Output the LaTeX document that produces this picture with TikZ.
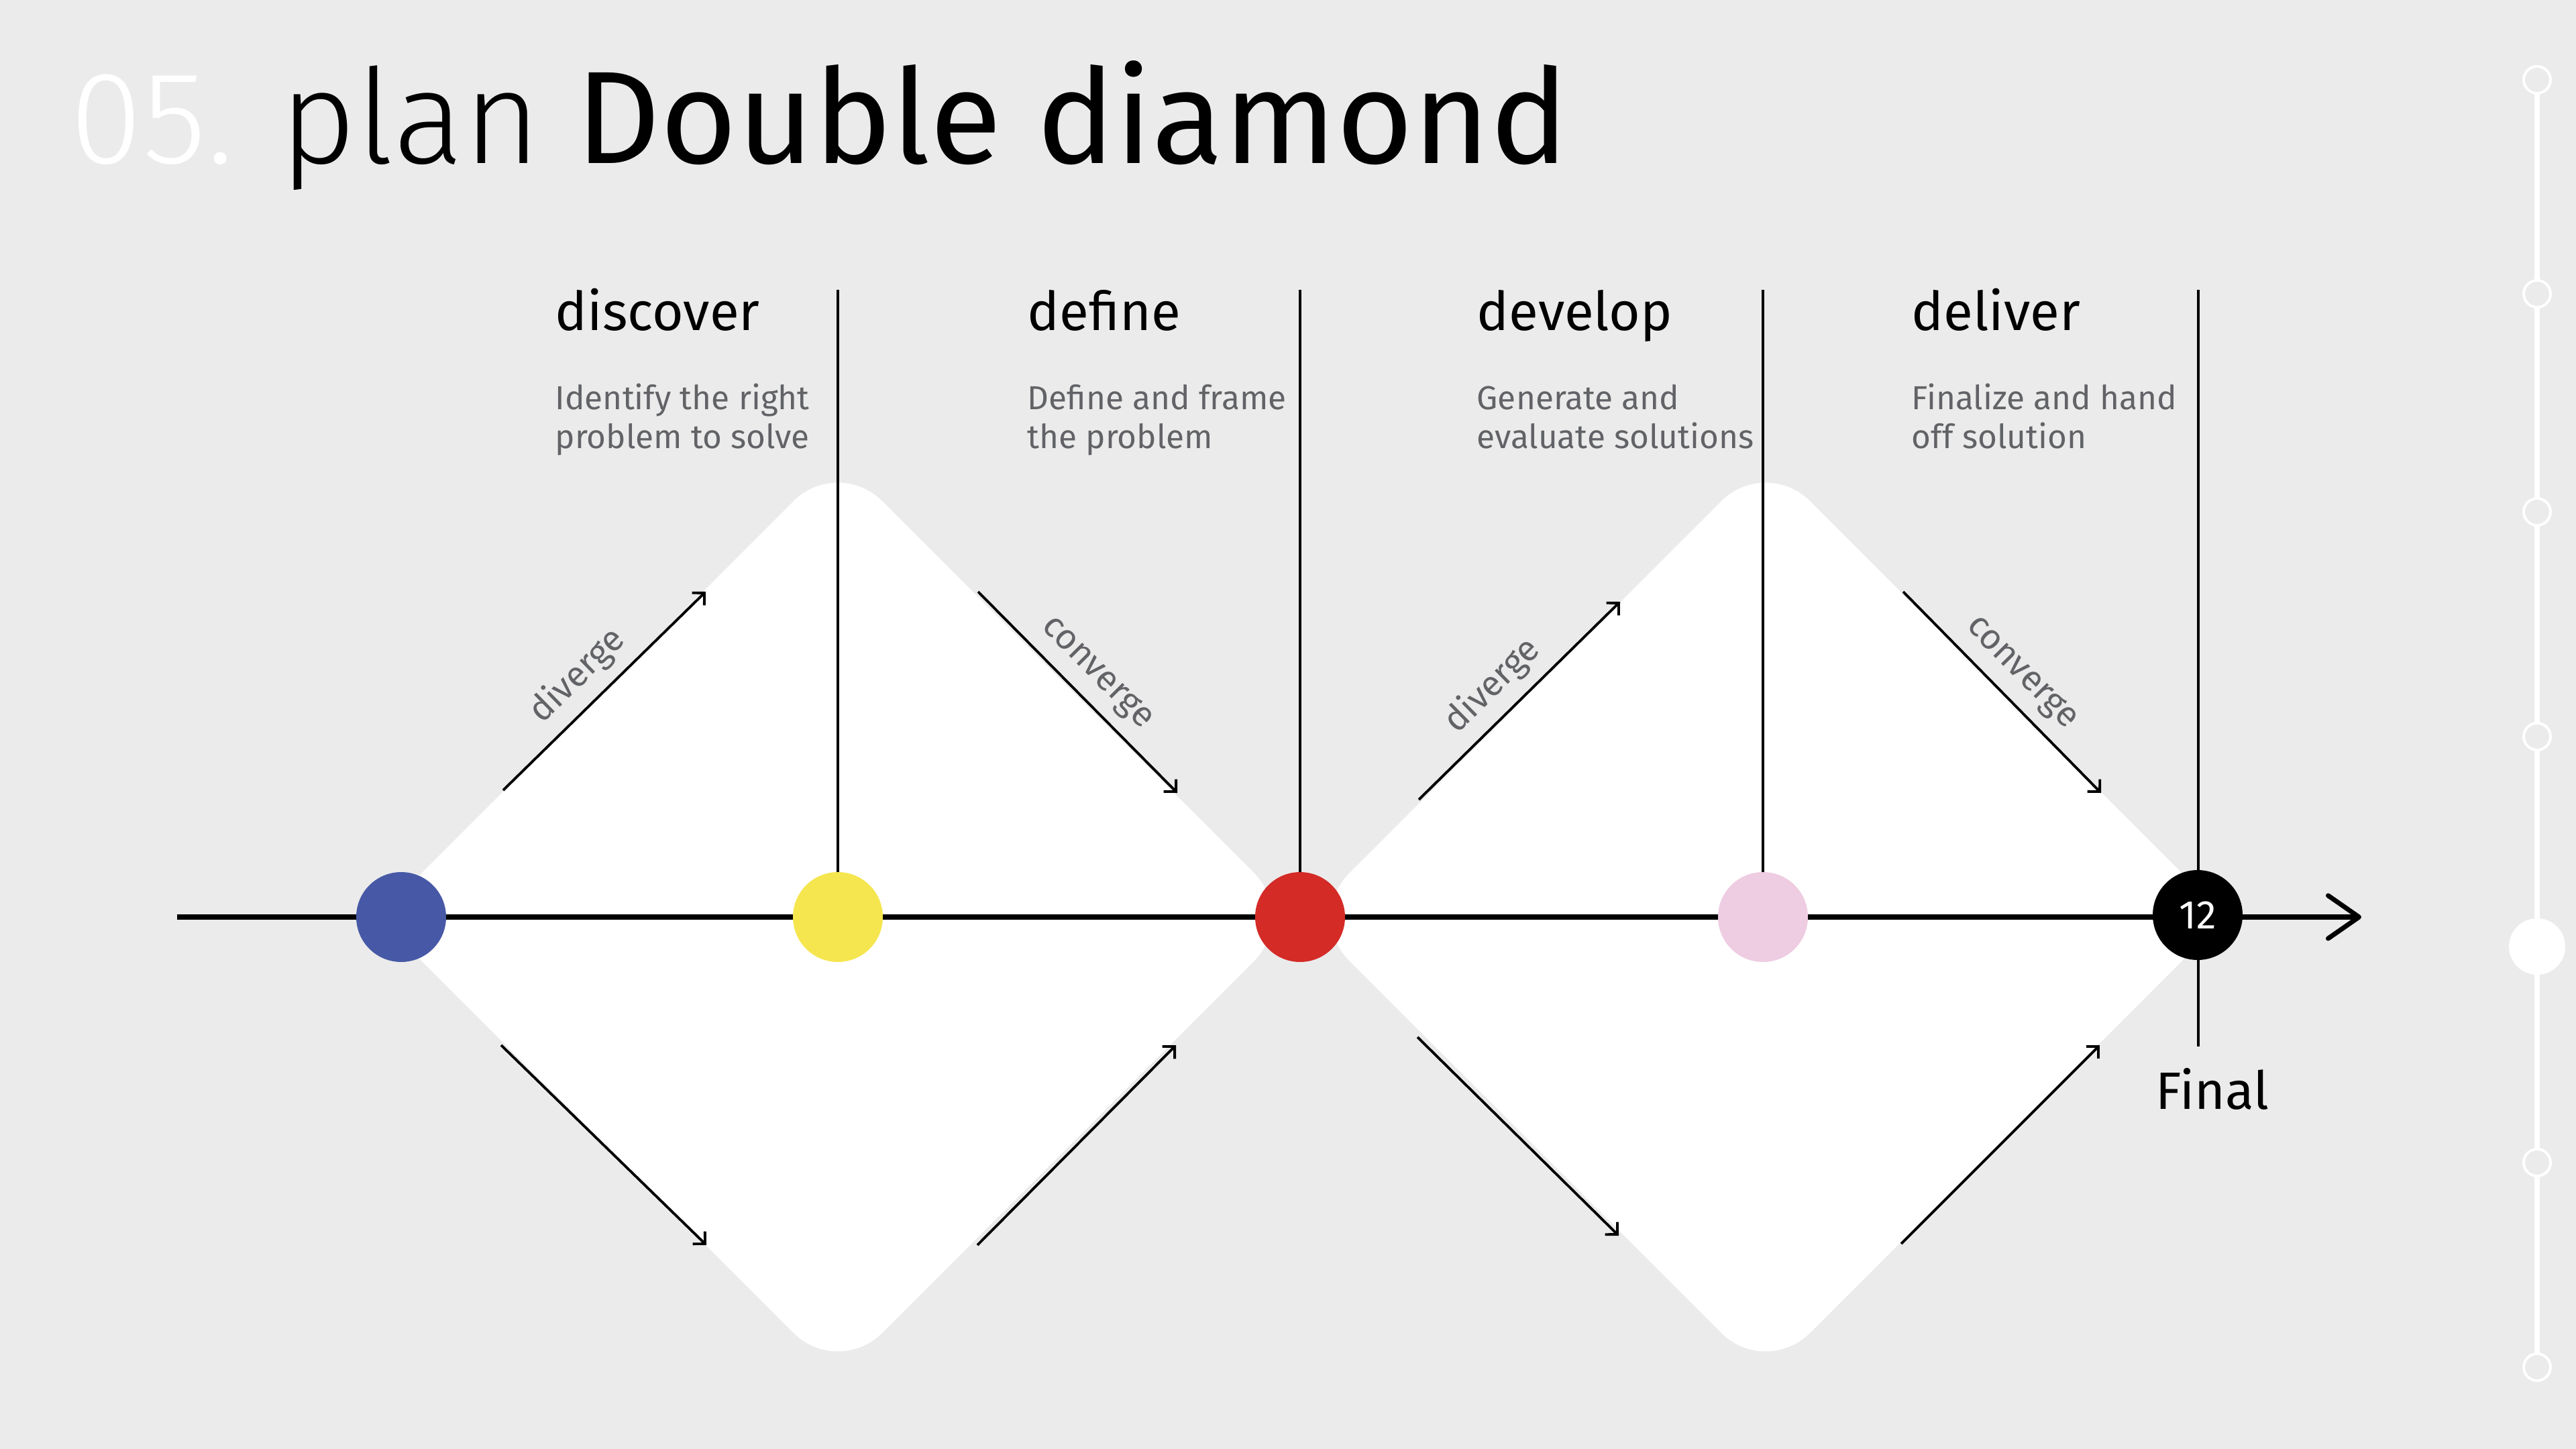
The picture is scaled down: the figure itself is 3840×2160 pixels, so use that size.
\documentclass[tikz,border=0pt]{standalone}
\usepackage{fontspec}
\setmainfont{Fira Sans}
\newfontfamily\lightfont{Fira Sans Light}
\usetikzlibrary{arrows.meta}

\definecolor{bg}{HTML}{EBEBEB}
\definecolor{subgray}{HTML}{626366}
\definecolor{dblue}{HTML}{4759A6}
\definecolor{dyellow}{HTML}{F5E64F}
\definecolor{dred}{HTML}{D42B27}
\definecolor{dpink}{HTML}{EECCE1}

\begin{document}
\begin{tikzpicture}[
    x=0.1mm, y=-0.1mm,
    dot/.style={circle, fill=#1, minimum size=13.4mm, inner sep=0pt},
    dot/.default=black,
    phase/.style={anchor=base west, inner sep=0pt, font=\fontsize{22.8}{27}\selectfont},
    blurb/.style={anchor=base west, inner sep=0pt, align=left, text=subgray, font=\fontsize{14.1}{16.5}\selectfont},
    flow/.style={line width=1.1pt, -{Straight Barb[length=1.3mm, width=2.6mm]}},
    tag/.style={sloped, above, text=subgray, inner sep=1.6mm, font=\fontsize{15}{17}\selectfont},
    stem/.style={line width=0.9pt},
    waypt/.style={circle, draw=white, fill=bg, line width=1.1pt, minimum size=4mm, inner sep=0pt}
]

    % Canvas
    \fill[bg] (0,0) rectangle (3840,2160);
    \useasboundingbox (0,0) rectangle (3840,2160);

    % Coordinates
    \coordinate (axstart) at (264,1367);
    \coordinate (axend)   at (3520,1367);

    % Double diamond (white, rounded)
    \fill[white, rounded corners=9.3mm] (563,1367) -- (1249,681) -- (1935,1367) -- (1249,2053) -- cycle;
    \fill[white, rounded corners=9.3mm] (1946,1367) -- (2632,681) -- (3318,1367) -- (2632,2053) -- cycle;

    % Phase points
    \coordinate (start)   at (598,1367);
    \coordinate (problem) at (1249,1367);
    \coordinate (brief)   at (1938,1367);
    \coordinate (ideas)   at (2628,1367);
    \coordinate (final)   at (3276,1364);

    % Stems
    \coordinate (s1) at (1249,432);
    \coordinate (s2) at (1938,432);
    \coordinate (s3) at (2628,432);
    \coordinate (s4) at (3277,432);
    \coordinate (s5) at (3277,1560);
    \draw[stem] (s1) -- (problem);
    \draw[stem] (s2) -- (brief);
    \draw[stem] (s3) -- (ideas);
    \draw[stem] (s4) -- (s5);

    % Main axis
    \draw[line width=2pt, -{Straight Barb[length=4.6mm, width=6.4mm, round]}] (axstart) -- (axend);

    % Dots on top of axis and stems
    \node[dot=dblue]   (startdot)   at (start)   {};
    \node[dot=dyellow] (problemdot) at (problem) {};
    \node[dot=dred]    (briefdot)   at (brief)   {};
    \node[dot=dpink]   (ideasdot)   at (ideas)   {};
    \node[dot=black, text=white, font=\fontsize{17}{17}\selectfont] (finaldot) at (final) {12};

    % Diverge / converge arrows
    \coordinate (a1) at (750,1178);  \coordinate (b1) at (1052,882);
    \coordinate (a2) at (1458,882);  \coordinate (b2) at (1755,1182);
    \coordinate (a3) at (747,1558);  \coordinate (b3) at (1053,1856);
    \coordinate (a4) at (1457,1856); \coordinate (b4) at (1753,1558);
    \coordinate (a5) at (2115,1192); \coordinate (b5) at (2415,897);
    \coordinate (a6) at (2837,882);  \coordinate (b6) at (3132,1182);
    \coordinate (a7) at (2113,1546); \coordinate (b7) at (2413,1842);
    \coordinate (a8) at (2834,1854); \coordinate (b8) at (3130,1558);

    \draw[flow] (a1) -- (b1) node[tag, pos=0.47] {diverge};
    \draw[flow] (a2) -- (b2) node[tag, pos=0.5] {converge};
    \draw[flow] (a3) -- (b3);
    \draw[flow] (a4) -- (b4);
    \draw[flow] (a5) -- (b5) node[tag, pos=0.47] {diverge};
    \draw[flow] (a6) -- (b6) node[tag, pos=0.5] {converge};
    \draw[flow] (a7) -- (b7);
    \draw[flow] (a8) -- (b8);

    % Phase titles
    \node[phase] (discover) at (827,492)  {discover};
    \node[phase] (define)   at (1531,492) {define};
    \node[phase] (develop)  at (2201,492) {develop};
    \node[phase] (deliver)  at (2849,492) {deliver};

    % (base anchor sits on the last line)
    \node[blurb] at (827,668)  {Identify the right\\problem to solve};
    \node[blurb] at (1531,668) {Define and frame\\the problem};
    \node[blurb] at (2201,668) {Generate and\\evaluate solutions};
    \node[blurb] at (2849,668) {Finalize and hand\\off solution};

    \node[phase, font=\fontsize{22.3}{26}\selectfont] (finallbl) at (3213,1653) {Final};

    % Title
    \node[anchor=base west, inner sep=0pt, font=\fontsize{55.8}{60}\selectfont] (title) at (104,243)
        {{\lightfont\color{white}05.} {\lightfont plan} Double diamond};

    % Slide progress rail
    \coordinate (rtop) at (3782,119);
    \coordinate (rbot) at (3782,2038);
    \draw[white, line width=0.8mm] (rtop) -- (rbot);
    \foreach \y [count=\i] in {119,438,763,1098,1733,2038}
        \node[waypt] (wp\i) at (3782,\y) {};
    \node[circle, fill=white, minimum size=8.4mm, inner sep=0pt] (here) at (3782,1411) {};

\end{tikzpicture}
\end{document}
